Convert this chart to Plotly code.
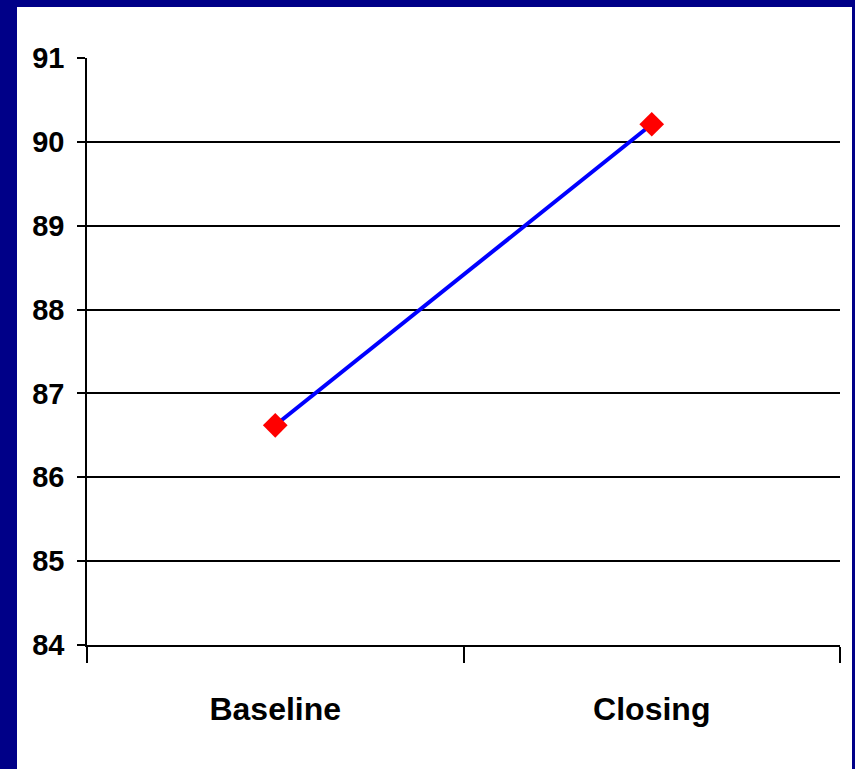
import plotly.graph_objects as go

categories = ["Baseline", "Closing"]
values = [86.62, 90.21]
y_ticks = [84, 85, 86, 87, 88, 89, 90, 91]

W, H = 855, 769
L, R, T, B = 87, 15, 58, 124
pw, ph = W - L - R, H - T - B
NAVY = "#000088"

def px_to_paper_x(px):
    return (px - L) / pw

def px_to_paper_y(py):
    return (H - B - py) / ph

fig = go.Figure()
fig.add_trace(go.Scatter(
    x=categories, y=values, mode="lines+markers",
    line=dict(color="#0000FF", width=4),
    marker=dict(symbol="diamond", size=19, color="#FF0000", line=dict(width=0)),
    showlegend=False,
))

font_family = "Liberation Sans, Arial, sans-serif"

fig.update_layout(
    width=W, height=H,
    margin=dict(l=L, r=R, t=T, b=B, pad=0),
    paper_bgcolor=NAVY,
    plot_bgcolor="rgba(0,0,0,0)",
    shapes=[dict(
        type="rect", xref="paper", yref="paper", layer="below",
        x0=px_to_paper_x(17), x1=px_to_paper_x(852),
        y0=px_to_paper_y(769 + 5), y1=px_to_paper_y(7),
        fillcolor="white", line=dict(width=0),
    )],
    xaxis=dict(
        type="category", range=[-0.5, 1.5],
        showgrid=False, zeroline=False,
        showline=True, linecolor="black", linewidth=1.5,
        ticks="outside", tickson="boundaries", ticklen=16, tickwidth=1.5, tickcolor="black",
        tickfont=dict(family=font_family, size=32, color="black", weight="bold"),
        ticklabelstandoff=35,
    ),
    yaxis=dict(
        range=[84, 91], tickvals=y_ticks,
        showgrid=True, gridcolor="black", gridwidth=1.5,
        zeroline=False,
        showline=True, linecolor="black", linewidth=1.5,
        ticks="outside", ticklen=8, tickwidth=1.5, tickcolor="black",
        tickfont=dict(family=font_family, size=29, color="black", weight="bold"),
        ticklabelstandoff=7,
    ),
)

fig.write_html(
    "out.html",
    config={"displayModeBar": False},
    post_script="document.body.style.margin='0';document.body.style.background='" + NAVY + "';",
)
